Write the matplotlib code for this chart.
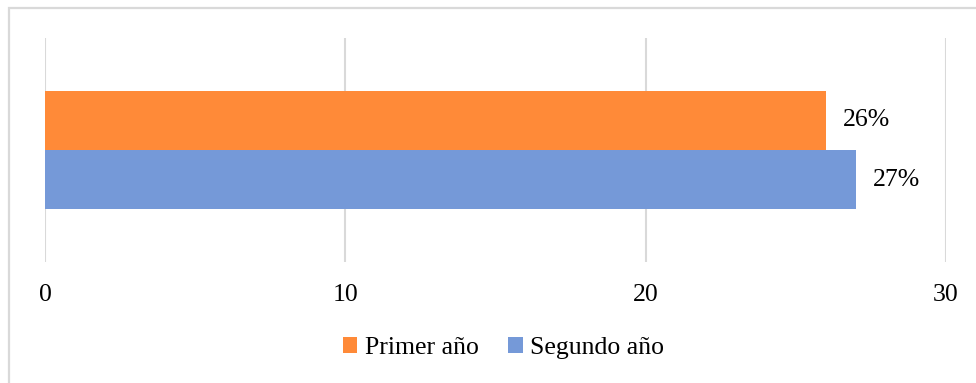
import matplotlib.pyplot as plt
from matplotlib.patches import Rectangle

# Data
series = ['Primer año', 'Segundo año']
values = [26, 27]
labels = ['26%', '27%']
colors = ['#FF8A38', '#7599D8']
xticks = [0, 10, 20, 30]

plt.rcParams['font.family'] = ['Liberation Serif', 'DejaVu Serif']

fig = plt.figure(figsize=(9.76, 3.83), dpi=100)
W, H = 976, 383

# axes placed in pixel coordinates: x 45..946, y 38..262 (from top)
ax = fig.add_axes([45 / W, 1 - 262 / H, (946 - 45) / W, (262 - 38) / H])

ypos = [0.265, -0.265]
bars = []
for name, v, c, y in zip(series, values, colors, ypos):
    b = ax.barh(y, v, height=0.53, color=c, label=name, zorder=2)
    bars.append(b)

for v, lab, y in zip(values, labels, ypos):
    ax.text(v + 0.55, y, lab, va='center', ha='left', fontsize=18.5)

ax.set_xlim(0, 30)
ax.set_ylim(-1, 1)
ax.set_xticks(xticks)
ax.set_xticklabels([str(t) for t in xticks], fontsize=18.5)
ax.set_yticks([])
ax.tick_params(axis='x', length=0, pad=16)
ax.grid(axis='x', color='#D9D9D9', linewidth=1.5, zorder=0)
for s in ax.spines.values():
    s.set_visible(False)

leg = fig.legend(handles=[b[0] for b in bars], labels=series,
                 loc='center', bbox_to_anchor=(503.5 / W, 1 - 348 / H), ncol=2,
                 frameon=False, fontsize=18.5, handlelength=0.55, handleheight=0.55,
                 handletextpad=0.3, columnspacing=1.17)

# outer chart border (cut off at the right and bottom)
fig.patches.append(Rectangle((8.5 / W, -0.1), 1.1, 1 - 8.5 / H + 0.1,
                             transform=fig.transFigure, fill=False,
                             edgecolor='#D9D9D9', linewidth=1.6))

fig.savefig('out.png', dpi=100)
